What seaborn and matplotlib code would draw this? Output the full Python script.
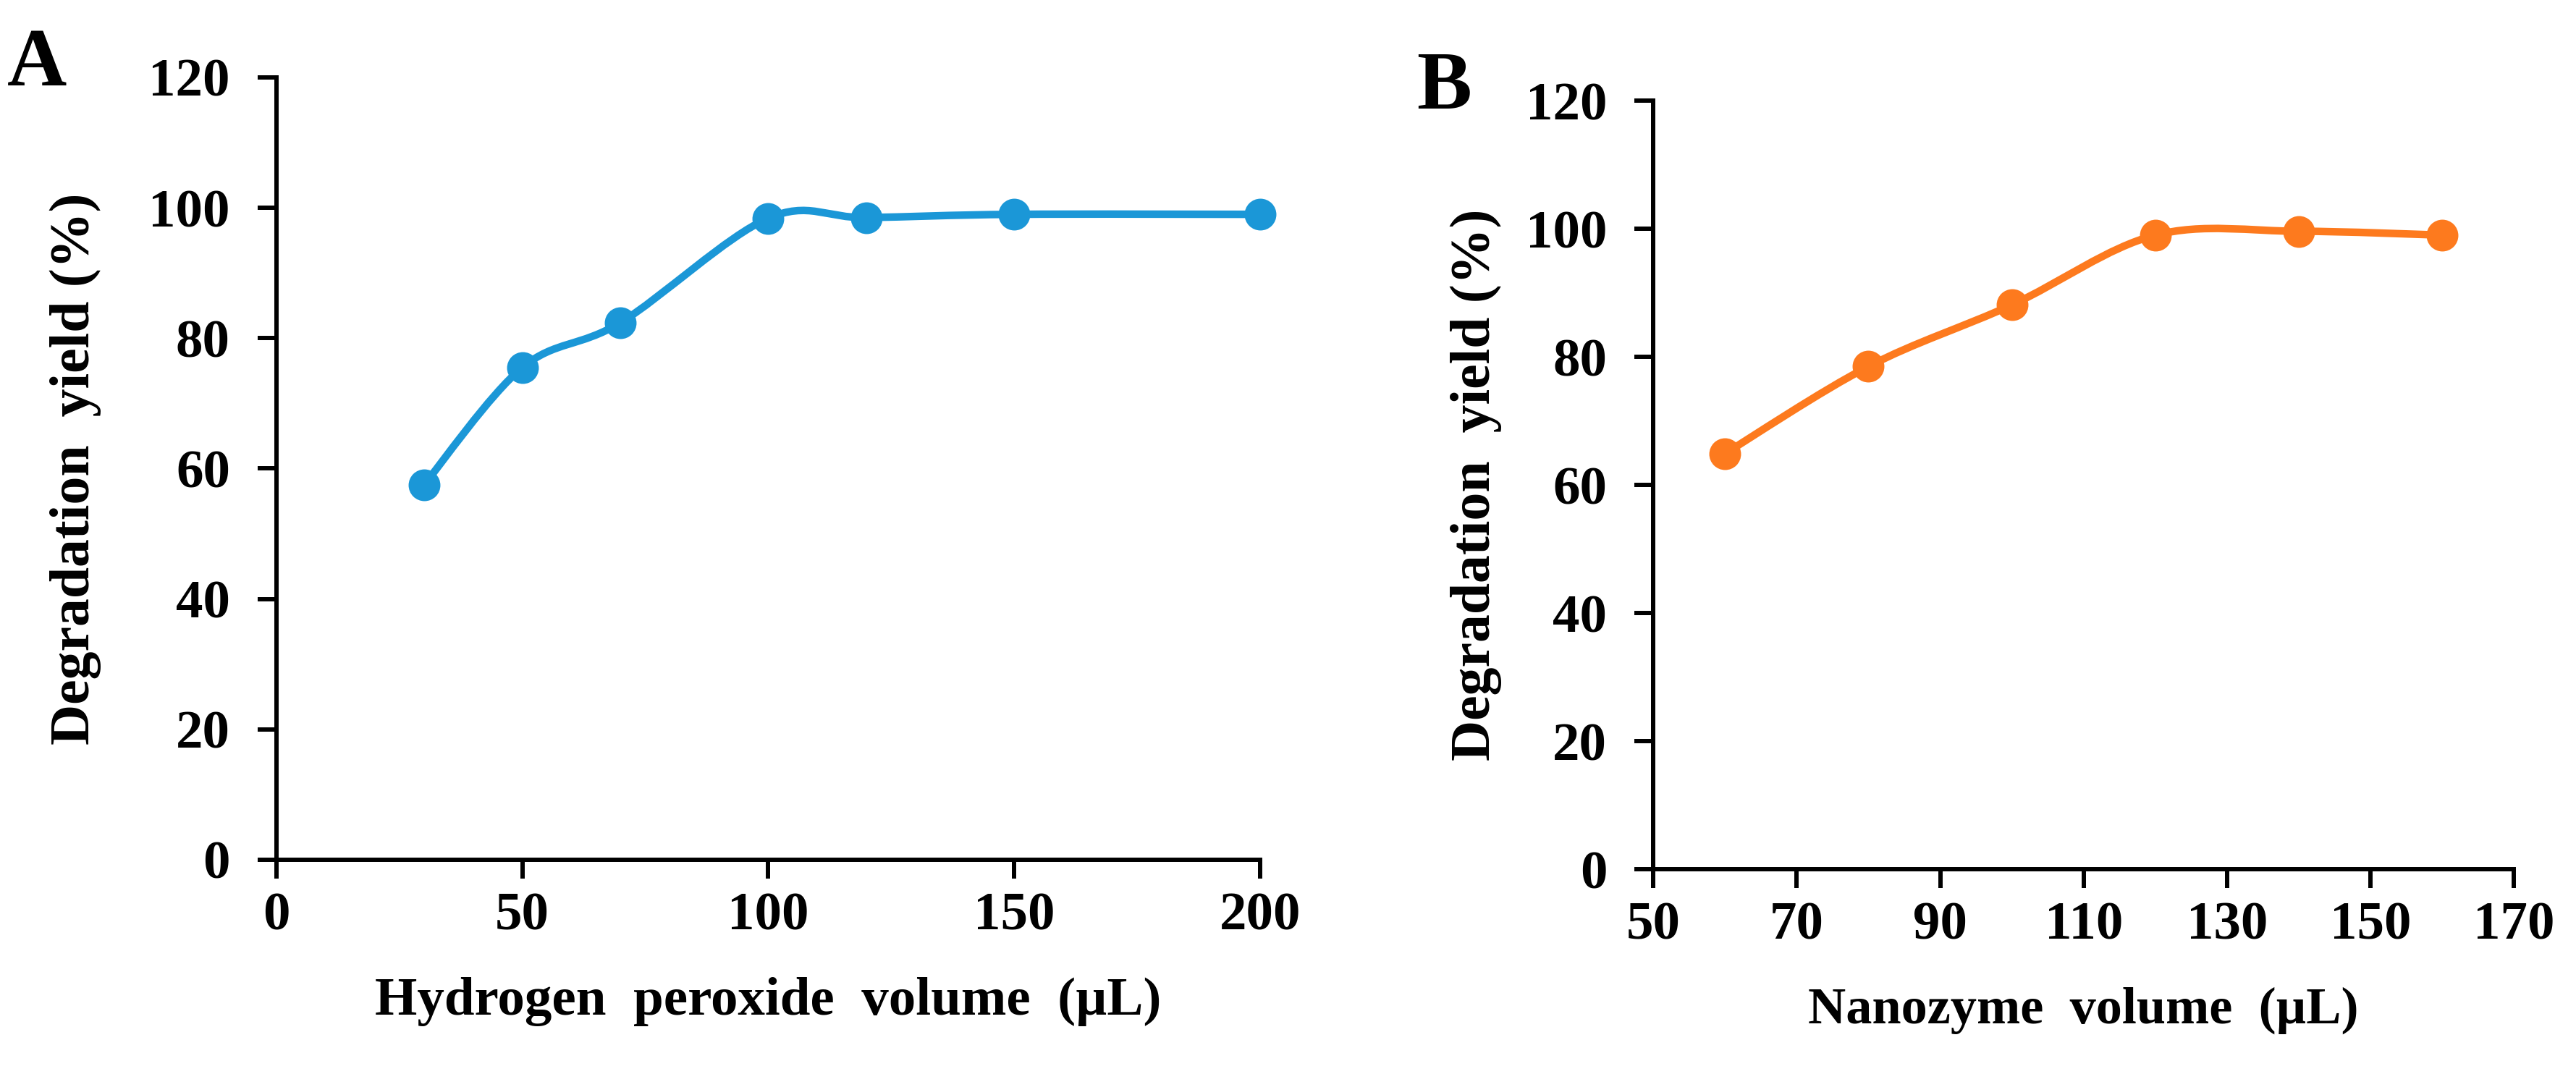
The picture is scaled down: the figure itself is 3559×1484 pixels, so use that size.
import matplotlib
matplotlib.use("Agg")
import matplotlib.pyplot as plt
from matplotlib.path import Path
from matplotlib.patches import PathPatch
import numpy as np
import seaborn as sns

# panel A data
h2o2_volume = [30, 50, 70, 100, 120, 150, 200]
h2o2_yield = [57.5, 75.5, 82.4, 98.4, 98.5, 99.0, 99.0]

# panel B data
nano_volume = [60, 80, 100, 120, 140, 160]
nano_yield = [64.9, 78.5, 88.1, 99.0, 99.6, 99.0]

blue = "#1B97D7"
orange = "#FD7A1E"


def smooth_path(xs, ys):
    # excel-like smoothed line (catmull-rom as bezier)
    pts = np.column_stack([xs, ys]).astype(float)
    n = len(pts)
    verts = [pts[0]]
    codes = [Path.MOVETO]
    for i in range(n - 1):
        p0 = pts[i - 1] if i > 0 else pts[i]
        p1 = pts[i]
        p2 = pts[i + 1]
        p3 = pts[i + 2] if i + 2 < n else pts[i + 1]
        verts += [p1 + (p2 - p0) / 6, p2 - (p3 - p1) / 6, p2]
        codes += [Path.CURVE4] * 3
    return Path(verts, codes)


def draw_panel(ax, xs, ys, color, xticks, xlabel, lbl_size, ylab_x):
    ax.add_patch(PathPatch(smooth_path(xs, ys), fill=False, edgecolor=color,
                           linewidth=7.5, capstyle="round", zorder=2, clip_on=False))
    sns.scatterplot(x=xs, y=ys, ax=ax, color=color, s=1000, linewidth=0,
                    zorder=3, clip_on=False)
    ax.set_xlim(xticks[0], xticks[-1])
    ax.set_ylim(0, 120)
    ax.set_xticks(xticks)
    ax.set_yticks(range(0, 121, 20))
    for s in ["top", "right"]:
        ax.spines[s].set_visible(False)
    for s in ["left", "bottom"]:
        ax.spines[s].set_linewidth(4.3)
        ax.spines[s].set_color("black")
    ax.tick_params(axis="both", direction="out", length=19, width=4.3,
                   labelsize=54, colors="black")
    ax.tick_params(axis="y", pad=27)
    ax.tick_params(axis="x", pad=13)
    ax.set_xlabel(xlabel, fontsize=lbl_size, fontweight="bold", color="black")
    ax.set_ylabel("Degradation  yield (%)", fontsize=56, fontweight="bold",
                  color="black")
    ax.yaxis.set_label_coords(ylab_x, 0.5)


sns.set_theme(style="ticks")
plt.rcParams["font.family"] = ["Liberation Serif", "DejaVu Serif"]
plt.rcParams["font.weight"] = "bold"
plt.rcParams["axes.labelweight"] = "bold"
plt.rcParams["text.color"] = "black"
plt.rcParams["axes.labelcolor"] = "black"

fig = plt.figure(figsize=(35.59, 14.84), dpi=100)
ax1 = fig.add_axes([0.1073, 0.1995, 0.3818, 0.7284])
ax2 = fig.add_axes([0.6418, 0.1907, 0.3341, 0.7156])

draw_panel(ax1, h2o2_volume, h2o2_yield, blue, [0, 50, 100, 150, 200],
           "Hydrogen  peroxide  volume  (\u00b5L)", 54, -0.178)
draw_panel(ax2, nano_volume, nano_yield, orange, [50, 70, 90, 110, 130, 150, 170],
           "Nanozyme  volume  (\u00b5L)", 52, -0.176)

ax1.xaxis.set_label_coords(0.5, -0.15)
ax2.xaxis.set_label_coords(0.5, -0.153)

fig.text(10 / 3559, 1 - 118 / 1484, "A", fontsize=82, fontweight="bold",
         va="baseline", color="black")
fig.text(1957 / 3559, 1 - 150 / 1484, "B", fontsize=82, fontweight="bold",
         va="baseline", color="black")

fig.savefig("out.png", dpi=100, facecolor="white")
